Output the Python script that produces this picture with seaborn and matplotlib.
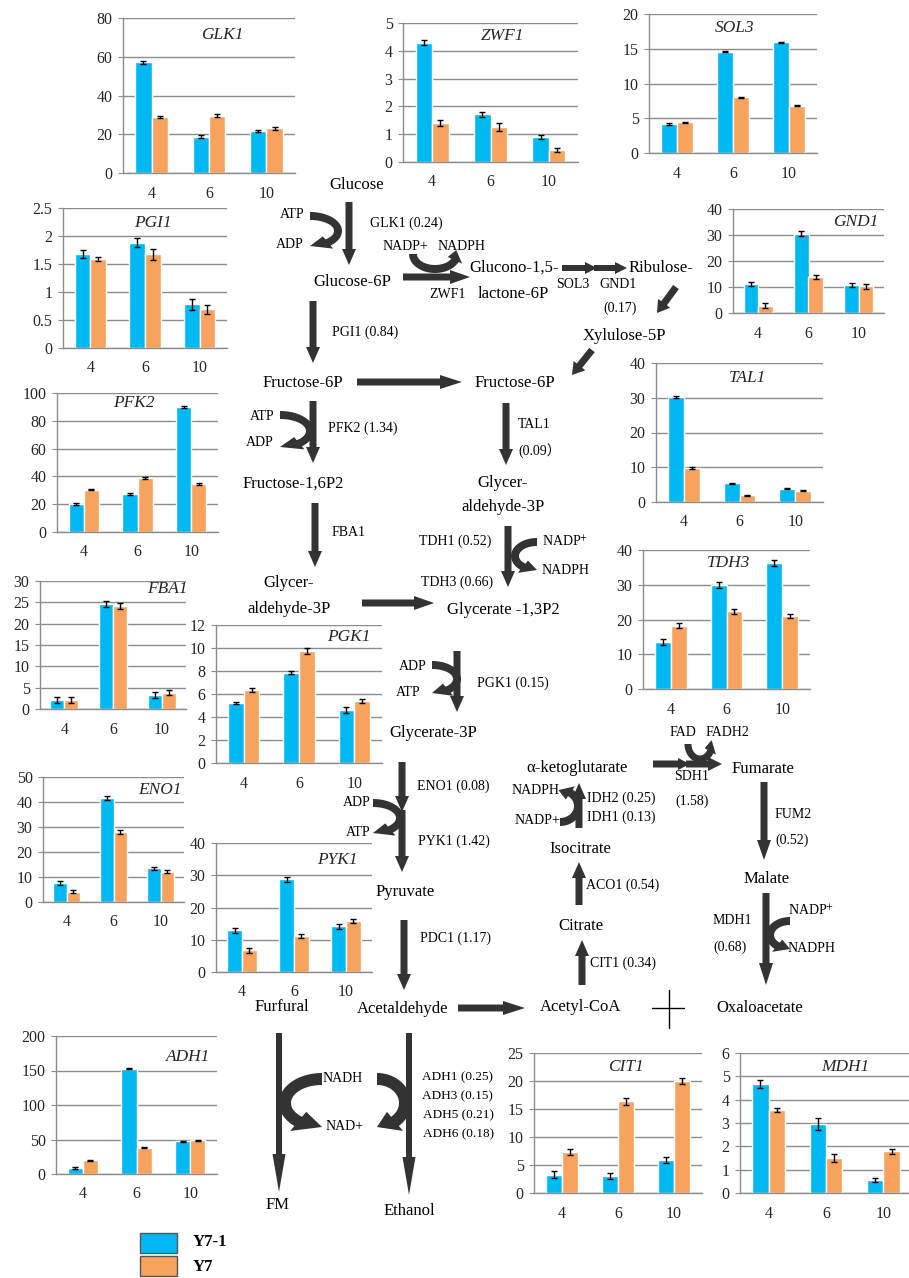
import numpy as np
import pandas as pd
import matplotlib
matplotlib.use('Agg')
import matplotlib.pyplot as plt
from matplotlib.patches import Polygon, Rectangle
import seaborn as sns

sns.set_style('white')
plt.rcParams['font.family'] = ['Liberation Serif', 'DejaVu Serif', 'Noto Sans CJK SC']
plt.rcParams['mathtext.fontset'] = 'stix'

# sampling times and strains
times = ['4', '6', '10']
strains = ['Y7-1', 'Y7']

# relative expression (Y7-1, Y7) and error bars
glk1_y71 = [57.2, 18.8, 21.7]
glk1_y7 = [28.8, 29.5, 23.0]
glk1_err = [[0.7, 0.7, 0.6], [0.6, 0.7, 0.7]]

zwf1_y71 = [4.29, 1.71, 0.90]
zwf1_y7 = [1.41, 1.25, 0.43]
zwf1_err = [[0.09, 0.08, 0.06], [0.10, 0.14, 0.07]]

sol3_y71 = [4.2, 14.6, 15.9]
sol3_y7 = [4.4, 8.0, 6.8]
sol3_err = [[0.15, 0.12, 0.12], [0.10, 0.12, 0.05]]

pgi1_y71 = [1.68, 1.88, 0.78]
pgi1_y7 = [1.59, 1.67, 0.69]
pgi1_err = [[0.07, 0.08, 0.10], [0.04, 0.09, 0.08]]

gnd1_y71 = [11.3, 30.5, 10.8]
gnd1_y7 = [2.8, 13.8, 10.2]
gnd1_err = [[0.8, 0.9, 0.9], [0.9, 0.8, 0.8]]

pfk2_y71 = [20.1, 27.1, 89.9]
pfk2_y7 = [30.5, 38.8, 34.5]
pfk2_err = [[0.6, 0.7, 0.6], [0.5, 0.6, 0.6]]

tal1_y71 = [30.2, 5.4, 3.85]
tal1_y7 = [9.7, 1.9, 3.3]
tal1_err = [[0.2, 0.2, 0.1], [0.3, 0.15, 0.1]]

tdh3_y71 = [13.5, 29.9, 36.2]
tdh3_y7 = [18.2, 22.4, 21.0]
tdh3_err = [[0.8, 0.8, 0.8], [0.7, 0.7, 0.7]]

fba1_y71 = [2.1, 24.5, 3.35]
fba1_y7 = [2.2, 24.1, 3.8]
fba1_err = [[0.7, 0.7, 0.7], [0.7, 0.7, 0.6]]

pgk1_y71 = [5.2, 7.86, 4.62]
pgk1_y7 = [6.36, 9.74, 5.38]
pgk1_err = [[0.1, 0.15, 0.25], [0.18, 0.25, 0.2]]

eno1_y71 = [7.6, 41.5, 13.5]
eno1_y7 = [4.2, 28.2, 12.2]
eno1_err = [[0.8, 0.8, 0.7], [0.7, 0.8, 0.6]]

pyk1_y71 = [12.9, 28.7, 14.2]
pyk1_y7 = [6.7, 11.1, 15.7]
pyk1_err = [[0.8, 0.8, 0.8], [0.7, 0.6, 0.6]]

adh1_y71 = [8.7, 152.5, 47.6]
adh1_y7 = [19.7, 38.0, 49.0]
adh1_err = [[0.8, 1.0, 0.9], [0.8, 0.8, 0.8]]

cit1_y71 = [3.3, 3.0, 5.9]
cit1_y7 = [7.3, 16.4, 20.0]
cit1_err = [[0.6, 0.5, 0.6], [0.5, 0.6, 0.6]]

mdh1_y71 = [4.66, 2.97, 0.55]
mdh1_y7 = [3.56, 1.50, 1.78]
mdh1_err = [[0.17, 0.25, 0.08], [0.08, 0.17, 0.10]]

BLUE = '#00B9F2'
ORANGE = '#F7A35E'
DARK = '#333333'
GRID = '#8c8c8c'
W, H = 909, 1278

# panel: name, values, errors, pixel box (left, top, right, bottom), ymax, step, title pos
panels = [
    ('GLK1', glk1_y71, glk1_y7, glk1_err, (123, 18, 295, 173), 80, 20, (0.58, 0.89)),
    ('ZWF1', zwf1_y71, zwf1_y7, zwf1_err, (403, 23, 578, 162), 5, 1, (0.57, 0.91)),
    ('SOL3', sol3_y71, sol3_y7, sol3_err, (649, 14, 817, 153), 20, 5, (0.51, 0.90)),
    ('PGI1', pgi1_y71, pgi1_y7, pgi1_err, (63, 208, 227, 348), 2.5, 0.5, (0.55, 0.89)),
    ('GND1', gnd1_y71, gnd1_y7, gnd1_err, (733, 209, 884, 313), 40, 10, (0.81, 0.875)),
    ('PFK2', pfk2_y71, pfk2_y7, pfk2_err, (57, 393, 218, 532), 100, 20, (0.48, 0.93)),
    ('TAL1', tal1_y71, tal1_y7, tal1_err, (656, 363, 823, 502), 40, 10, (0.55, 0.89)),
    ('FBA1', fba1_y71, fba1_y7, fba1_err, (40, 581, 186, 709), 30, 5, (0.87, 0.94)),
    ('PGK1', pgk1_y71, pgk1_y7, pgk1_err, (216, 625, 382, 763), 12, 2, (0.80, 0.91)),
    ('TDH3', tdh3_y71, tdh3_y7, tdh3_err, (643, 550, 810, 689), 40, 10, (0.51, 0.91)),
    ('ENO1', eno1_y71, eno1_y7, eno1_err, (43, 777, 184, 902), 50, 10, (0.83, 0.90)),
    ('PYK1', pyk1_y71, pyk1_y7, pyk1_err, (216, 843, 372, 972), 40, 10, (0.78, 0.87)),
    ('ADH1', adh1_y71, adh1_y7, adh1_err, (56, 1036, 217, 1174), 200, 50, (0.82, 0.85)),
    ('CIT1', cit1_y71, cit1_y7, cit1_err, (534, 1053, 702, 1193), 25, 5, (0.55, 0.90)),
    ('MDH1', mdh1_y71, mdh1_y7, mdh1_err, (740, 1053, 912, 1193), 6, 1, (0.61, 0.90)),
]

fig = plt.figure(figsize=(W / 100, H / 100), dpi=100)

# overlay for the pathway, in pixel units
ov = fig.add_axes([0, 0, 1, 1])
ov.set_xlim(0, W)
ov.set_ylim(H, 0)
ov.axis('off')


def straight_arrow(x0, y0, x1, y1, tw=7, hw=14, hl=16):
    dx, dy = x1 - x0, y1 - y0
    L = np.hypot(dx, dy)
    ux, uy = dx / L, dy / L
    nx, ny = -uy, ux
    bx, by = x1 - ux * hl, y1 - uy * hl
    pts = [(x0 + nx * tw / 2, y0 + ny * tw / 2), (bx + nx * tw / 2, by + ny * tw / 2),
           (bx + nx * hw / 2, by + ny * hw / 2), (x1, y1),
           (bx - nx * hw / 2, by - ny * hw / 2), (bx - nx * tw / 2, by - ny * tw / 2),
           (x0 - nx * tw / 2, y0 - ny * tw / 2)]
    ov.add_patch(Polygon(pts, closed=True, fc=DARK, ec='none'))


def bent_arrow(cx, cy, rx, ry, t0, t1, tw=8, hw=16, dh=40):
    s = np.sign(t1 - t0)
    th = t1 - s * dh
    t = np.radians(np.linspace(t0, th, 50))
    tb, te = np.radians(th), np.radians(t1)
    ox = cx + (rx + tw / 2) * np.cos(t)
    oy = cy + (ry + tw / 2) * np.sin(t)
    ix = cx + (rx - tw / 2) * np.cos(t[::-1])
    iy = cy + (ry - tw / 2) * np.sin(t[::-1])
    hx = [cx + (rx + hw / 2) * np.cos(tb), cx + rx * np.cos(te), cx + (rx - hw / 2) * np.cos(tb)]
    hy = [cy + (ry + hw / 2) * np.sin(tb), cy + ry * np.sin(te), cy + (ry - hw / 2) * np.sin(tb)]
    xs = np.concatenate([ox, hx, ix])
    ys = np.concatenate([oy, hy, iy])
    ov.fill(xs, ys, color=DARK, lw=0)


def label(x, y, s, size=10, ha='center', **kw):
    ov.text(x, y, s, fontsize=size, ha=ha, va='center', color='black', **kw)


# main straight arrows
straight_arrow(349, 202, 349, 265)
straight_arrow(403, 277, 470, 277, hl=20)
straight_arrow(562, 268, 597, 268, tw=6, hw=12, hl=12)
straight_arrow(594, 268, 627, 268, tw=6, hw=12, hl=12)
straight_arrow(676, 287, 657, 313, tw=7, hw=15, hl=12)
straight_arrow(592, 350, 572, 375, tw=7, hw=15, hl=12)
straight_arrow(313, 301, 313, 363)
straight_arrow(357, 382, 462, 382, hl=22)
straight_arrow(313, 401, 313, 463)
straight_arrow(506, 403, 506, 465)
straight_arrow(315, 503, 315, 567)
straight_arrow(508, 526, 508, 587)
straight_arrow(362, 603, 434, 603, hl=20)
straight_arrow(457, 651, 457, 712)
straight_arrow(402, 762, 402, 812)
straight_arrow(402, 810, 402, 872)
straight_arrow(404, 920, 404, 990)
straight_arrow(458, 1008, 525, 1008, hl=22)
straight_arrow(582, 985, 582, 940)
straight_arrow(579, 905, 579, 862)
straight_arrow(579, 828, 579, 783)
straight_arrow(653, 764, 690, 764, tw=7, hw=12, hl=12)
straight_arrow(686, 764, 722, 764, tw=7, hw=14, hl=14)
straight_arrow(764, 782, 764, 860, hl=20)
straight_arrow(766, 893, 766, 985, hl=22)
straight_arrow(279, 1033, 279, 1192, tw=6, hw=13, hl=38)
straight_arrow(409, 1033, 409, 1195, tw=6, hw=13, hl=38)

# cofactor arrows
bent_arrow(310, 231, 28, 15, -90, 90)
bent_arrow(435, 254, 22, 15, 180, -15)
bent_arrow(280, 431, 30, 16, -90, 90)
bent_arrow(537, 556, 22, 14, -90, -270)
bent_arrow(432, 679, 25, 14, -90, 90)
bent_arrow(373, 818, 27, 15, -90, 90)
bent_arrow(560, 806, 18, 16, 90, -95)
bent_arrow(700, 744, 12, 15, 180, -15, tw=7, hw=13, dh=45)
bent_arrow(790, 935, 20, 14, -90, -270)
bent_arrow(322, 1103, 37, 24, -90, -270, tw=12, hw=25, dh=40)
bent_arrow(377, 1103, 28, 24, -90, 90, tw=12, hw=25, dh=40)

# no-flux cross
ov.plot([652, 684], [1008, 1008], color='black', lw=1)
ov.plot([669, 669], [990, 1028], color='black', lw=1)

# metabolites
M = 12
label(357, 185, 'Glucose', M)
label(352, 282, 'Glucose-6P', M)
label(469, 268, 'Glucono-1,5-', M, ha='left')
label(513, 294, 'lactone-6P', M)
label(629, 268, 'Ribulose-', M, ha='left')
label(583, 336, 'Xylulose-5P', M, ha='left')
label(303, 383, 'Fructose-6P', M)
label(515, 383, 'Fructose-6P', M)
label(293, 484, 'Fructose-1,6P2', M)
label(503, 483, 'Glycer-', M)
label(503, 507, 'aldehyde-3P', M)
label(289, 583, 'Glycer-', M)
label(289, 609, 'aldehyde-3P', M)
label(503, 610, 'Glycerate -1,3P2', M)
label(433, 733, 'Glycerate-3P', M)
label(577, 768, 'α-ketoglutarate', M)
label(763, 769, 'Fumarate', M)
label(580, 849, 'Isocitrate', M)
label(767, 879, 'Malate', M)
label(405, 892, 'Pyruvate', M)
label(581, 926, 'Citrate', M)
label(282, 1007, 'Furfural', M)
label(403, 1009, 'Acetaldehyde', M)
label(581, 1007, 'Acetyl-CoA', M)
label(760, 1008, 'Oxaloacetate', M)
label(278, 1205, 'FM', M)
label(409, 1211, 'Ethanol', M)

# enzymes and cofactors
E = 10
label(292, 215, 'ATP', E)
label(290, 245, 'ADP', E)
label(370, 223, 'GLK1 (0.24)', E, ha='left')
label(383, 246, 'NADP+', E, ha='left')
label(438, 246, 'NADPH', E, ha='left')
label(448, 294, 'ZWF1', E)
label(573, 284, 'SOL3', E)
label(618, 284, 'GND1', E)
label(620, 308, '(0.17)', E)
label(332, 332, 'PGI1 (0.84)', E, ha='left')
label(262, 417, 'ATP', E)
label(260, 443, 'ADP', E)
label(328, 428, 'PFK2 (1.34)', E, ha='left')
label(518, 425, 'TAL1', E, ha='left')
label(518, 451, '(0.09）', E, ha='left')
label(332, 533, 'FBA1', E, ha='left')
label(419, 541, 'TDH1 (0.52)', E, ha='left')
label(421, 582, 'TDH3 (0.66)', E, ha='left')
label(542, 542, r'NADP$^{+}$', E, ha='left')
label(542, 570, 'NADPH', E, ha='left')
label(413, 666, 'ADP', E)
label(408, 693, 'ATP', E)
label(477, 683, 'PGK1 (0.15)', E, ha='left')
label(417, 786, 'ENO1 (0.08)', E, ha='left')
label(357, 803, 'ADP', E)
label(358, 833, 'ATP', E)
label(418, 841, 'PYK1 (1.42)', E, ha='left')
label(420, 938, 'PDC1 (1.17)', E, ha='left')
label(560, 790, 'NADPH', E, ha='right')
label(560, 820, 'NADP+', E, ha='right')
label(587, 798, 'IDH2 (0.25)', E, ha='left')
label(587, 817, 'IDH1 (0.13)', E, ha='left')
label(683, 733, 'FAD', E)
label(706, 733, 'FADH2', E, ha='left')
label(692, 777, 'SDH1', E)
label(692, 801, '(1.58)', E)
label(775, 815, 'FUM2', E, ha='left')
label(775, 840, '(0.52)', E, ha='left')
label(713, 921, 'MDH1', E, ha='left')
label(713, 947, '(0.68)', E, ha='left')
label(788, 911, r'NADP$^{+}$', E, ha='left')
label(788, 948, 'NADPH', E, ha='left')
label(586, 885, 'ACO1 (0.54)', E, ha='left')
label(590, 963, 'CIT1 (0.34)', E, ha='left')
label(343, 1079, 'NADH', E)
label(345, 1127, 'NAD+', E)
label(422, 1077, 'ADH1 (0.25)', 9.5, ha='left')
label(422, 1096, 'ADH3 (0.15)', 9.5, ha='left')
label(423, 1115, 'ADH5 (0.21)', 9.5, ha='left')
label(423, 1134, 'ADH6 (0.18)', 9.5, ha='left')

# legend
ov.add_patch(Rectangle((140, 1233), 37, 20, fc=BLUE, ec='#555555', lw=1))
ov.add_patch(Rectangle((140, 1256), 37, 20, fc=ORANGE, ec='#555555', lw=1))
label(193, 1242, 'Y7-1', 12, ha='left', fontweight='bold')
label(193, 1267, 'Y7', 12, ha='left', fontweight='bold')

# bar charts
for name, v1, v2, err, box, ymax, step, tpos in panels:
    l, t, r, b = box
    ax = fig.add_axes([l / W, 1 - b / H, (r - l) / W, (b - t) / H])
    ax.set_facecolor('none')
    df = pd.DataFrame({'time': times * 2,
                       'strain': [strains[0]] * 3 + [strains[1]] * 3,
                       'value': list(v1) + list(v2)})
    sns.barplot(data=df, x='time', y='value', hue='strain', order=times,
                hue_order=strains, palette=[BLUE, ORANGE], saturation=1,
                width=0.57, gap=0, errorbar=None, legend=False, ax=ax)
    for cont, e in zip(ax.containers, err):
        xs = [p.get_x() + p.get_width() / 2 for p in cont]
        hs = [p.get_height() for p in cont]
        ax.errorbar(xs, hs, yerr=e, fmt='none', ecolor='black',
                    elinewidth=1, capsize=2.5, capthick=1)
    ax.set_xlim(-0.5, 2.5)
    ax.set_ylim(0, ymax)
    ax.set_yticks(np.arange(0, ymax + step / 2, step))
    ax.set_yticklabels([f'{v:g}' for v in np.arange(0, ymax + step / 2, step)])
    ax.set_xlabel('')
    ax.set_ylabel('')
    ax.yaxis.grid(True, color=GRID, lw=1)
    ax.set_axisbelow(True)
    for sp in ['top', 'right']:
        ax.spines[sp].set_visible(False)
    for sp in ['left', 'bottom']:
        ax.spines[sp].set_color(GRID)
        ax.spines[sp].set_linewidth(1)
    ax.set_xticks([-0.5, 0.5, 1.5, 2.5], minor=True)
    ax.tick_params(axis='x', which='major', length=0, pad=9, labelsize=11.5)
    ax.tick_params(axis='x', which='minor', length=4, color=GRID, direction='out')
    ax.tick_params(axis='y', length=3.5, color=GRID, direction='out', pad=4, labelsize=11.5,
                   left=True)
    ax.text(tpos[0], tpos[1], name, transform=ax.transAxes, ha='center', va='center',
            fontsize=12.5, style='italic')

fig.savefig('out.png', dpi=100)
